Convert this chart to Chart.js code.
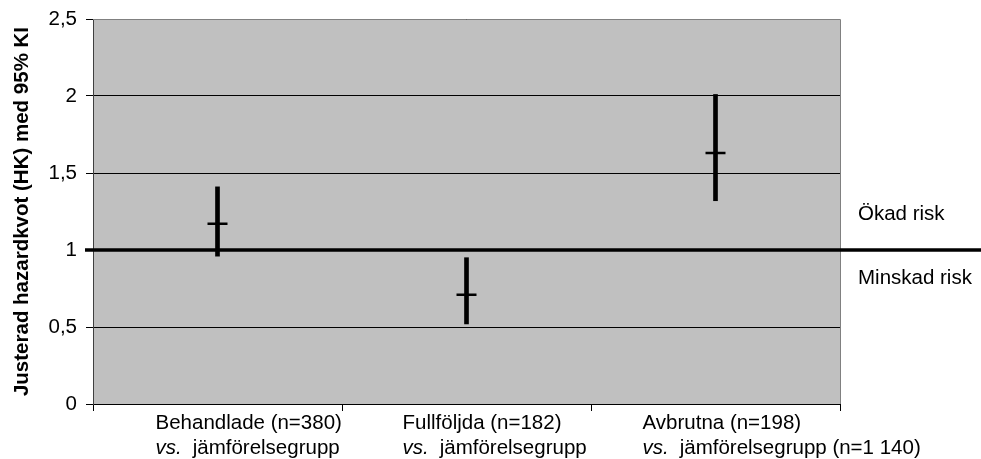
<!DOCTYPE html>
<html>
<head>
<meta charset="utf-8">
<script src="https://cdn.jsdelivr.net/npm/chart.js@4"></script>
<style>
  body { margin: 0; background: #fff; }
  #wrap { width: 981px; height: 459px; position: relative; }
</style>
</head>
<body>
<div id="wrap"><canvas id="c"></canvas></div>
<script>
const groups = ['Behandlade (n=380)', 'Fullföljda (n=182)', 'Avbrutna (n=198)'];
const secondLines = ['jämförelsegrupp', 'jämförelsegrupp', 'jämförelsegrupp (n=1 140)'];
const hrLow = [0.96, 0.52, 1.32];
const hrPoint = [1.17, 0.71, 1.63];
const hrHigh = [1.41, 0.95, 2.01];
const yTicks = [0, 0.5, 1, 1.5, 2, 2.5];
const refValue = 1;

const FONT = 'Liberation Sans, Arial, sans-serif';
const FS = 20.5;
const labelShift = [-62, -64, -73];

const decorPlugin = {
  id: 'decor',
  beforeDraw(chart) {
    const { ctx, chartArea: a } = chart;
    ctx.save();
    ctx.fillStyle = '#c0c0c0';
    ctx.fillRect(a.left, a.top, a.right - a.left, a.bottom - a.top);
    ctx.restore();
  },
  beforeDatasetsDraw(chart) {
    const { ctx, chartArea: a, scales } = chart;
    ctx.save();
    // plot frame
    ctx.strokeStyle = '#808080';
    ctx.lineWidth = 1;
    ctx.beginPath();
    ctx.moveTo(a.left, a.top + 0.5);
    ctx.lineTo(a.right + 0.5, a.top + 0.5);
    ctx.lineTo(a.right + 0.5, a.bottom);
    ctx.stroke();
    // reference line at 1
    const y = scales.y.getPixelForValue(refValue);
    ctx.strokeStyle = '#000';
    ctx.lineWidth = 3.5;
    ctx.beginPath();
    ctx.moveTo(a.left - 8, y);
    ctx.lineTo(chart.width, y);
    ctx.stroke();
    // side notes
    ctx.fillStyle = '#000';
    ctx.font = FS + 'px ' + FONT;
    ctx.textAlign = 'left';
    ctx.textBaseline = 'alphabetic';
    ctx.fillText('Ökad risk', a.right + 18, y - 30);
    ctx.fillText('Minskad risk', a.right + 18, y + 34);
    ctx.restore();
  },
  afterDraw(chart) {
    const { ctx, chartArea: a, scales } = chart;
    ctx.save();
    ctx.fillStyle = '#000';
    ctx.textAlign = 'left';
    ctx.textBaseline = 'alphabetic';
    groups.forEach((g, i) => {
      const x = scales.x.getPixelForValue(i) + labelShift[i];
      ctx.font = FS + 'px ' + FONT;
      ctx.fillText(g, x, a.bottom + 25);
      ctx.font = 'italic ' + FS + 'px ' + FONT;
      ctx.fillText('vs.', x, a.bottom + 50);
      const w = ctx.measureText('vs.').width;
      ctx.font = FS + 'px ' + FONT;
      ctx.fillText(secondLines[i], x + w + 11, a.bottom + 50);
    });
    ctx.restore();
  }
};

new Chart(document.getElementById('c'), {
  type: 'bar',
  data: {
    labels: groups,
    datasets: [
      {
        label: 'KI',
        data: hrLow.map((lo, i) => [lo, hrHigh[i]]),
        backgroundColor: '#000',
        barThickness: 4,
        borderSkipped: false,
        order: 2,
      },
      {
        type: 'line',
        label: 'HK',
        data: hrPoint,
        showLine: false,
        pointStyle: 'line',
        pointRadius: 10,
        pointBorderWidth: 2.5,
        pointBorderColor: '#000',
        pointBackgroundColor: '#000',
        order: 1,
      },
    ],
  },
  options: {
    responsive: true,
    maintainAspectRatio: false,
    animation: false,
    layout: { padding: { left: 0, right: 141, top: 19, bottom: 0 } },
    plugins: {
      legend: { display: false },
      tooltip: { enabled: false },
    },
    scales: {
      x: {
        offset: true,
        grid: {
          offset: true,
          drawOnChartArea: false,
          drawTicks: true,
          tickLength: 7,
          color: '#000',
        },
        border: { color: '#000', width: 1 },
        ticks: { display: false },
        afterFit: (s) => { s.height = 55; },
      },
      y: {
        min: 0,
        max: 2.5,
        afterBuildTicks: (s) => { s.ticks = yTicks.map((v) => ({ value: v })); },
        grid: { color: '#000', lineWidth: 1, tickLength: 7 },
        border: { color: '#404040', width: 1 },
        ticks: {
          color: '#000',
          padding: 9,
          font: { family: FONT, size: FS },
          callback: (v) => String(v).replace('.', ','),
        },
        title: {
          display: true,
          text: 'Justerad hazardkvot (HK) med 95% KI',
          color: '#000',
          font: { family: FONT, size: FS, weight: 'bold' },
          padding: { top: 10, bottom: 0 },
        },
        afterFit: (s) => {
          s.width = 93;
          s.paddingTop = 0;
          s.paddingBottom = 0;
        },
      },
    },
  },
  plugins: [decorPlugin],
});
</script>
</body>
</html>
